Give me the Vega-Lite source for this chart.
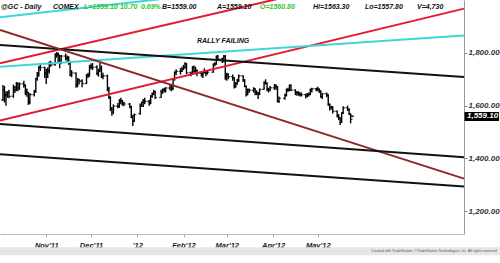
{
  "$schema": "https://vega.github.io/schema/vega-lite/v6.json",
  "width": 464,
  "height": 234,
  "autosize": {"type": "none"},
  "padding": {"left": 0, "top": 0, "right": 36, "bottom": 29},
  "background": "white",
  "config": {"view": {"stroke": null}, "text": {"font": "Liberation Sans"}},
  "datasets": {
    "gc": [
      {"date":"2011-10-03","open":1622,"high":1678,"low":1618,"close":1658},
      {"date":"2011-10-04","open":1660,"high":1675,"low":1612,"close":1641},
      {"date":"2011-10-05","open":1640,"high":1655,"low":1600,"close":1642},
      {"date":"2011-10-06","open":1642,"high":1655,"low":1630,"close":1650},
      {"date":"2011-10-07","open":1650,"high":1660,"low":1628,"close":1635},
      {"date":"2011-10-10","open":1636,"high":1680,"low":1630,"close":1670},
      {"date":"2011-10-11","open":1670,"high":1675,"low":1648,"close":1660},
      {"date":"2011-10-12","open":1660,"high":1690,"low":1655,"close":1684},
      {"date":"2011-10-13","open":1684,"high":1688,"low":1655,"close":1667},
      {"date":"2011-10-14","open":1667,"high":1688,"low":1660,"close":1683},
      {"date":"2011-10-17","open":1683,"high":1695,"low":1668,"close":1678},
      {"date":"2011-10-18","open":1678,"high":1680,"low":1640,"close":1655},
      {"date":"2011-10-19","open":1655,"high":1665,"low":1634,"close":1650},
      {"date":"2011-10-20","open":1650,"high":1652,"low":1603,"close":1615},
      {"date":"2011-10-21","open":1615,"high":1648,"low":1605,"close":1642},
      {"date":"2011-10-24","open":1642,"high":1660,"low":1635,"close":1652},
      {"date":"2011-10-25","open":1652,"high":1705,"low":1650,"close":1703},
      {"date":"2011-10-26","open":1703,"high":1728,"low":1695,"close":1722},
      {"date":"2011-10-27","open":1722,"high":1750,"low":1710,"close":1746},
      {"date":"2011-10-28","open":1746,"high":1756,"low":1732,"close":1745},
      {"date":"2011-10-31","open":1745,"high":1748,"low":1705,"close":1725},
      {"date":"2011-11-01","open":1722,"high":1740,"low":1682,"close":1713},
      {"date":"2011-11-02","open":1713,"high":1745,"low":1705,"close":1733},
      {"date":"2011-11-03","open":1733,"high":1768,"low":1722,"close":1763},
      {"date":"2011-11-04","open":1763,"high":1770,"low":1748,"close":1755},
      {"date":"2011-11-07","open":1755,"high":1798,"low":1752,"close":1795},
      {"date":"2011-11-08","open":1795,"high":1803,"low":1782,"close":1795},
      {"date":"2011-11-09","open":1795,"high":1802,"low":1765,"close":1791},
      {"date":"2011-11-10","open":1791,"high":1792,"low":1742,"close":1760},
      {"date":"2011-11-11","open":1760,"high":1792,"low":1758,"close":1788},
      {"date":"2011-11-14","open":1788,"high":1798,"low":1772,"close":1780},
      {"date":"2011-11-15","open":1780,"high":1790,"low":1768,"close":1782},
      {"date":"2011-11-16","open":1782,"high":1788,"low":1755,"close":1762},
      {"date":"2011-11-17","open":1762,"high":1770,"low":1712,"close":1718},
      {"date":"2011-11-18","open":1718,"high":1735,"low":1708,"close":1724},
      {"date":"2011-11-21","open":1724,"high":1726,"low":1668,"close":1678},
      {"date":"2011-11-22","open":1678,"high":1705,"low":1670,"close":1699},
      {"date":"2011-11-23","open":1699,"high":1702,"low":1680,"close":1693},
      {"date":"2011-11-25","open":1693,"high":1700,"low":1670,"close":1684},
      {"date":"2011-11-28","open":1684,"high":1720,"low":1682,"close":1714},
      {"date":"2011-11-29","open":1714,"high":1725,"low":1705,"close":1716},
      {"date":"2011-11-30","open":1716,"high":1755,"low":1710,"close":1746},
      {"date":"2011-12-01","open":1746,"high":1760,"low":1738,"close":1746},
      {"date":"2011-12-02","open":1746,"high":1762,"low":1735,"close":1746},
      {"date":"2011-12-05","open":1746,"high":1753,"low":1715,"close":1723},
      {"date":"2011-12-06","open":1723,"high":1740,"low":1710,"close":1732},
      {"date":"2011-12-07","open":1732,"high":1762,"low":1728,"close":1742},
      {"date":"2011-12-08","open":1742,"high":1752,"low":1705,"close":1711},
      {"date":"2011-12-09","open":1711,"high":1725,"low":1700,"close":1713},
      {"date":"2011-12-12","open":1713,"high":1718,"low":1655,"close":1663},
      {"date":"2011-12-13","open":1663,"high":1672,"low":1625,"close":1632},
      {"date":"2011-12-14","open":1632,"high":1635,"low":1580,"close":1588},
      {"date":"2011-12-15","open":1588,"high":1595,"low":1562,"close":1575},
      {"date":"2011-12-16","open":1575,"high":1605,"low":1568,"close":1598},
      {"date":"2011-12-19","open":1598,"high":1610,"low":1590,"close":1597},
      {"date":"2011-12-20","open":1597,"high":1625,"low":1592,"close":1618},
      {"date":"2011-12-21","open":1618,"high":1630,"low":1605,"close":1619},
      {"date":"2011-12-22","open":1619,"high":1622,"low":1600,"close":1610},
      {"date":"2011-12-23","open":1610,"high":1615,"low":1598,"close":1606},
      {"date":"2011-12-27","open":1606,"high":1610,"low":1590,"close":1595},
      {"date":"2011-12-28","open":1595,"high":1600,"low":1552,"close":1557},
      {"date":"2011-12-29","open":1557,"high":1566,"low":1523,"close":1541},
      {"date":"2011-12-30","open":1541,"high":1570,"low":1538,"close":1566},
      {"date":"2012-01-03","open":1570,"high":1608,"low":1566,"close":1600},
      {"date":"2012-01-04","open":1600,"high":1615,"low":1595,"close":1613},
      {"date":"2012-01-05","open":1613,"high":1625,"low":1595,"close":1620},
      {"date":"2012-01-06","open":1620,"high":1630,"low":1605,"close":1616},
      {"date":"2012-01-09","open":1616,"high":1622,"low":1600,"close":1608},
      {"date":"2012-01-10","open":1608,"high":1640,"low":1606,"close":1636},
      {"date":"2012-01-11","open":1636,"high":1650,"low":1630,"close":1645},
      {"date":"2012-01-12","open":1645,"high":1660,"low":1640,"close":1653},
      {"date":"2012-01-13","open":1653,"high":1657,"low":1625,"close":1631},
      {"date":"2012-01-17","open":1631,"high":1660,"low":1630,"close":1654},
      {"date":"2012-01-18","open":1654,"high":1665,"low":1645,"close":1661},
      {"date":"2012-01-19","open":1661,"high":1668,"low":1650,"close":1657},
      {"date":"2012-01-20","open":1657,"high":1670,"low":1650,"close":1667},
      {"date":"2012-01-23","open":1667,"high":1680,"low":1658,"close":1678},
      {"date":"2012-01-24","open":1678,"high":1682,"low":1655,"close":1664},
      {"date":"2012-01-25","open":1664,"high":1705,"low":1660,"close":1700},
      {"date":"2012-01-26","open":1700,"high":1730,"low":1695,"close":1726},
      {"date":"2012-01-27","open":1726,"high":1738,"low":1715,"close":1730},
      {"date":"2012-01-30","open":1730,"high":1742,"low":1718,"close":1731},
      {"date":"2012-01-31","open":1731,"high":1748,"low":1728,"close":1740},
      {"date":"2012-02-01","open":1740,"high":1755,"low":1735,"close":1746},
      {"date":"2012-02-02","open":1746,"high":1765,"low":1740,"close":1759},
      {"date":"2012-02-03","open":1759,"high":1762,"low":1720,"close":1725},
      {"date":"2012-02-06","open":1725,"high":1730,"low":1712,"close":1721},
      {"date":"2012-02-07","open":1721,"high":1750,"low":1718,"close":1745},
      {"date":"2012-02-08","open":1745,"high":1752,"low":1725,"close":1731},
      {"date":"2012-02-09","open":1731,"high":1748,"low":1725,"close":1733},
      {"date":"2012-02-10","open":1733,"high":1738,"low":1712,"close":1723},
      {"date":"2012-02-13","open":1723,"high":1728,"low":1710,"close":1721},
      {"date":"2012-02-14","open":1721,"high":1730,"low":1705,"close":1726},
      {"date":"2012-02-15","open":1726,"high":1742,"low":1722,"close":1730},
      {"date":"2012-02-16","open":1730,"high":1735,"low":1712,"close":1725},
      {"date":"2012-02-17","open":1725,"high":1735,"low":1718,"close":1727},
      {"date":"2012-02-21","open":1727,"high":1760,"low":1725,"close":1757},
      {"date":"2012-02-22","open":1757,"high":1765,"low":1750,"close":1759},
      {"date":"2012-02-23","open":1759,"high":1790,"low":1755,"close":1787},
      {"date":"2012-02-24","open":1787,"high":1792,"low":1770,"close":1777},
      {"date":"2012-02-27","open":1777,"high":1782,"low":1762,"close":1770},
      {"date":"2012-02-28","open":1770,"high":1792,"low":1765,"close":1787},
      {"date":"2012-02-29","open":1787,"high":1792,"low":1698,"close":1712},
      {"date":"2012-03-01","open":1712,"high":1725,"low":1695,"close":1719},
      {"date":"2012-03-02","open":1719,"high":1722,"low":1700,"close":1710},
      {"date":"2012-03-05","open":1710,"high":1718,"low":1695,"close":1706},
      {"date":"2012-03-06","open":1706,"high":1708,"low":1665,"close":1674},
      {"date":"2012-03-07","open":1674,"high":1690,"low":1668,"close":1683},
      {"date":"2012-03-08","open":1683,"high":1702,"low":1680,"close":1697},
      {"date":"2012-03-09","open":1697,"high":1718,"low":1690,"close":1713},
      {"date":"2012-03-12","open":1713,"high":1715,"low":1690,"close":1698},
      {"date":"2012-03-13","open":1698,"high":1700,"low":1670,"close":1674},
      {"date":"2012-03-14","open":1674,"high":1676,"low":1635,"close":1642},
      {"date":"2012-03-15","open":1642,"high":1665,"low":1640,"close":1659},
      {"date":"2012-03-16","open":1659,"high":1665,"low":1648,"close":1658},
      {"date":"2012-03-19","open":1658,"high":1670,"low":1650,"close":1663},
      {"date":"2012-03-20","open":1663,"high":1666,"low":1640,"close":1651},
      {"date":"2012-03-21","open":1651,"high":1658,"low":1640,"close":1648},
      {"date":"2012-03-22","open":1648,"high":1652,"low":1625,"close":1643},
      {"date":"2012-03-23","open":1643,"high":1665,"low":1640,"close":1662},
      {"date":"2012-03-26","open":1662,"high":1692,"low":1660,"close":1688},
      {"date":"2012-03-27","open":1688,"high":1700,"low":1680,"close":1685},
      {"date":"2012-03-28","open":1685,"high":1688,"low":1655,"close":1663},
      {"date":"2012-03-29","open":1663,"high":1668,"low":1650,"close":1662},
      {"date":"2012-03-30","open":1662,"high":1675,"low":1655,"close":1668},
      {"date":"2012-04-02","open":1668,"high":1682,"low":1660,"close":1677},
      {"date":"2012-04-03","open":1677,"high":1680,"low":1660,"close":1672},
      {"date":"2012-04-04","open":1672,"high":1675,"low":1612,"close":1617},
      {"date":"2012-04-05","open":1617,"high":1635,"low":1610,"close":1628},
      {"date":"2012-04-09","open":1628,"high":1645,"low":1622,"close":1639},
      {"date":"2012-04-10","open":1639,"high":1665,"low":1635,"close":1661},
      {"date":"2012-04-11","open":1661,"high":1668,"low":1652,"close":1660},
      {"date":"2012-04-12","open":1660,"high":1680,"low":1655,"close":1677},
      {"date":"2012-04-13","open":1677,"high":1680,"low":1655,"close":1659},
      {"date":"2012-04-16","open":1659,"high":1662,"low":1640,"close":1650},
      {"date":"2012-04-17","open":1650,"high":1655,"low":1638,"close":1650},
      {"date":"2012-04-18","open":1650,"high":1655,"low":1638,"close":1643},
      {"date":"2012-04-19","open":1643,"high":1652,"low":1635,"close":1641},
      {"date":"2012-04-20","open":1641,"high":1650,"low":1635,"close":1642},
      {"date":"2012-04-23","open":1642,"high":1646,"low":1627,"close":1638},
      {"date":"2012-04-24","open":1638,"high":1648,"low":1632,"close":1642},
      {"date":"2012-04-25","open":1642,"high":1650,"low":1635,"close":1643},
      {"date":"2012-04-26","open":1643,"high":1665,"low":1640,"close":1659},
      {"date":"2012-04-27","open":1659,"high":1668,"low":1650,"close":1664},
      {"date":"2012-04-30","open":1664,"high":1668,"low":1655,"close":1663},
      {"date":"2012-05-01","open":1663,"high":1672,"low":1655,"close":1662},
      {"date":"2012-05-02","open":1662,"high":1665,"low":1648,"close":1655},
      {"date":"2012-05-03","open":1655,"high":1658,"low":1630,"close":1634},
      {"date":"2012-05-04","open":1634,"high":1648,"low":1625,"close":1645},
      {"date":"2012-05-07","open":1645,"high":1650,"low":1632,"close":1640},
      {"date":"2012-05-08","open":1640,"high":1643,"low":1600,"close":1605},
      {"date":"2012-05-09","open":1605,"high":1608,"low":1582,"close":1592},
      {"date":"2012-05-10","open":1592,"high":1600,"low":1585,"close":1594},
      {"date":"2012-05-11","open":1594,"high":1598,"low":1570,"close":1579},
      {"date":"2012-05-14","open":1579,"high":1582,"low":1555,"close":1562},
      {"date":"2012-05-15","open":1562,"high":1568,"low":1545,"close":1553},
      {"date":"2012-05-16","open":1553,"high":1555,"low":1527,"close":1537},
      {"date":"2012-05-17","open":1537,"high":1575,"low":1535,"close":1573},
      {"date":"2012-05-18","open":1573,"high":1598,"low":1568,"close":1592},
      {"date":"2012-05-21","open":1592,"high":1600,"low":1580,"close":1585},
      {"date":"2012-05-22","open":1585,"high":1590,"low":1565,"close":1569},
      {"date":"2012-05-23","open":1569,"high":1570,"low":1533,"close":1548.4},
      {"date":"2012-05-24","open":1560.8,"high":1563.3,"low":1557.8,"close":1559.1}
    ],
    "lines": [
      {"line":"red upper","kind":"rising channel","date":"2011-10-01","price":1760.6},
      {"line":"red upper","kind":"rising channel","date":"2012-08-07","price":2168.9},
      {"line":"red lower","kind":"rising channel","date":"2011-10-01","price":1543.3},
      {"line":"red lower","kind":"rising channel","date":"2012-08-07","price":1968.3},
      {"line":"cyan main","kind":"cyan trend","date":"2011-10-01","price":1747.7},
      {"line":"cyan main","kind":"cyan trend","date":"2012-08-07","price":1866.2},
      {"line":"cyan top","kind":"cyan trend","date":"2011-10-01","price":1935.3},
      {"line":"cyan top","kind":"cyan trend","date":"2012-01-16","price":2004},
      {"line":"black upper","kind":"falling channel","date":"2011-10-01","price":1830.1},
      {"line":"black upper","kind":"falling channel","date":"2012-08-07","price":1708.6},
      {"line":"maroon","kind":"falling trend","date":"2011-10-01","price":1887.1},
      {"line":"maroon","kind":"falling trend","date":"2012-08-07","price":1323},
      {"line":"black mid","kind":"falling channel","date":"2011-10-01","price":1530},
      {"line":"black mid","kind":"falling channel","date":"2012-08-07","price":1404.7},
      {"line":"black low","kind":"falling channel","date":"2011-10-01","price":1416},
      {"line":"black low","kind":"falling channel","date":"2012-08-07","price":1293}
    ]
  },
  "layer": [
    {
      "data": {"name": "gc"},
      "mark": {"type": "rule", "color": "#000", "strokeWidth": 1.4},
      "encoding": {
        "x": {
          "field": "date", "type": "temporal",
          "scale": {"type": "utc", "domain": [1317427200000, 1344297600000]},
          "axis": {
            "title": null,
            "values": [1320105600000, 1322697600000, 1325376000000, 1328054400000, 1330560000000, 1333238400000, 1335830400000],
            "labelExpr": "utcmonth(datum.value) == 0 ? \"'12\" : utcFormat(datum.value, \"%b'%y\")",
            "labelOverlap": false,
            "labelFont": "Liberation Sans",
            "labelFontSize": 7.5,
            "labelFontWeight": "bold",
            "labelFontStyle": "italic",
            "labelColor": "#222",
            "labelPadding": 4,
            "tickSize": 3,
            "tickColor": "#aaa",
            "domainColor": "#bbb",
            "grid": false
          }
        },
        "y": {
          "field": "low", "type": "quantitative",
          "scale": {"domain": [1113, 2001], "nice": false, "zero": false},
          "axis": {
            "title": null,
            "orient": "right",
            "values": [1200, 1300, 1400, 1500, 1600, 1700, 1800, 1900],
            "format": ",.2f",
            "labelOverlap": false,
            "labelFont": "Liberation Sans",
            "labelFontSize": 8,
            "labelFontWeight": "bold",
            "labelFontStyle": "italic",
            "labelColor": "#333",
            "labelPadding": 1,
            "tickSize": 3,
            "tickColor": "#888",
            "domainColor": "#999",
            "grid": false
          }
        },
        "y2": {"field": "high"}
      }
    },
    {
      "data": {"name": "gc"},
      "mark": {"type": "tick", "orient": "horizontal", "size": 2, "thickness": 1.3, "xOffset": -1, "color": "#000"},
      "encoding": {
        "x": {"field": "date", "type": "temporal"},
        "y": {"field": "open", "type": "quantitative"}
      }
    },
    {
      "data": {"name": "gc"},
      "mark": {"type": "tick", "orient": "horizontal", "size": 2, "thickness": 1.3, "xOffset": 1, "color": "#000"},
      "encoding": {
        "x": {"field": "date", "type": "temporal"},
        "y": {"field": "close", "type": "quantitative"}
      }
    },
    {
      "data": {"name": "lines"},
      "mark": {"type": "line"},
      "encoding": {
        "x": {"field": "date", "type": "temporal"},
        "y": {"field": "price", "type": "quantitative"},
        "detail": {"field": "line"},
        "color": {"field": "kind", "type": "nominal", "legend": null,
          "scale": {"domain": ["rising channel", "cyan trend", "falling trend", "falling channel"], "range": ["#e31b2d", "#3fd6d6", "#8c2a2a", "#111111"]}},
        "strokeWidth": {"field": "kind", "type": "nominal", "legend": null,
          "scale": {"domain": ["rising channel", "cyan trend", "falling trend", "falling channel"], "range": [2, 2, 1.4, 1.4]}}
      }
    },
    {
      "data": {"values": [{}]},
      "mark": {"type": "rect", "color": "#e6e6e6"},
      "encoding": {
        "x": {"datum": 1317427200000, "type": "temporal"},
        "x2": {"datum": 1346371200000},
        "y": {"datum": 1063, "type": "quantitative"},
        "y2": {"datum": 1032.5}
      }
    },
    {
      "data": {"values": [{}]},
      "mark": {"type": "text", "align": "right", "baseline": "middle", "fontSize": 3.6, "color": "#555"},
      "encoding": {
        "x": {"datum": 1346198400000, "type": "temporal"},
        "y": {"datum": 1047, "type": "quantitative"},
        "text": {"value": "Created with TradeStation. ©TradeStation Technologies, Inc. All rights reserved"}
      }
    },
    {
      "data": {"values": [{}]},
      "mark": {"type": "text", "align": "left", "baseline": "middle", "fontSize": 7, "fontWeight": "bold", "fontStyle": "italic", "color": "#111"},
      "encoding": {
        "x": {"datum": 1328832000000, "type": "temporal"},
        "y": {"datum": 1846, "type": "quantitative"},
        "text": {"value": "RALLY FAILING"}
      }
    },
    {
      "data": {"values": [{}]},
      "mark": {"type": "point", "shape": "M0.03,-0.26H2V0.26H0.03Z", "size": 1225, "filled": true, "color": "#000", "opacity": 1},
      "encoding": {
        "x": {"datum": 1344297600000, "type": "temporal"},
        "y": {"datum": 1559.1, "type": "quantitative"}
      }
    },
    {
      "data": {"values": [{}]},
      "mark": {"type": "text", "align": "left", "baseline": "middle", "dx": 3, "fontSize": 8, "fontWeight": "bold", "fontStyle": "italic", "color": "#fff"},
      "encoding": {
        "x": {"datum": 1344297600000, "type": "temporal"},
        "y": {"datum": 1559.1, "type": "quantitative"},
        "text": {"value": "1,559.10"}
      }
    },
    {
      "data": {"values": [{}]},
      "mark": {"type": "text", "align": "left", "baseline": "alphabetic", "fontSize": 7, "fontWeight": "bold", "fontStyle": "italic", "color": "#111"},
      "encoding": {"x": {"datum": 1317484800000, "type": "temporal"}, "y": {"datum": 1965, "type": "quantitative"}, "text": {"value": "@GC - Daily"}}
    },
    {
      "data": {"values": [{}]},
      "mark": {"type": "text", "align": "left", "baseline": "alphabetic", "fontSize": 7, "fontWeight": "bold", "fontStyle": "italic", "color": "#111"},
      "encoding": {"x": {"datum": 1320494400000, "type": "temporal"}, "y": {"datum": 1965, "type": "quantitative"}, "text": {"value": "COMEX"}}
    },
    {
      "data": {"values": [{}]},
      "mark": {"type": "text", "align": "left", "baseline": "alphabetic", "fontSize": 7, "fontWeight": "bold", "fontStyle": "italic", "color": "#2fc42f"},
      "encoding": {"x": {"datum": 1322291520000, "type": "temporal"}, "y": {"datum": 1965, "type": "quantitative"}, "text": {"value": "L=1559.10"}}
    },
    {
      "data": {"values": [{}]},
      "mark": {"type": "text", "align": "left", "baseline": "alphabetic", "fontSize": 7, "fontWeight": "bold", "fontStyle": "italic", "color": "#2fc42f"},
      "encoding": {"x": {"datum": 1324373760000, "type": "temporal"}, "y": {"datum": 1965, "type": "quantitative"}, "text": {"value": "10.70"}}
    },
    {
      "data": {"values": [{}]},
      "mark": {"type": "text", "align": "left", "baseline": "alphabetic", "fontSize": 7, "fontWeight": "bold", "fontStyle": "italic", "color": "#2fc42f"},
      "encoding": {"x": {"datum": 1325592000000, "type": "temporal"}, "y": {"datum": 1965, "type": "quantitative"}, "text": {"value": "0.69%"}}
    },
    {
      "data": {"values": [{}]},
      "mark": {"type": "text", "align": "left", "baseline": "alphabetic", "fontSize": 7, "fontWeight": "bold", "fontStyle": "italic", "color": "#111"},
      "encoding": {"x": {"datum": 1326810240000, "type": "temporal"}, "y": {"datum": 1965, "type": "quantitative"}, "text": {"value": "B=1559.00"}}
    },
    {
      "data": {"values": [{}]},
      "mark": {"type": "text", "align": "left", "baseline": "alphabetic", "fontSize": 7, "fontWeight": "bold", "fontStyle": "italic", "color": "#111"},
      "encoding": {"x": {"datum": 1329989760000, "type": "temporal"}, "y": {"datum": 1965, "type": "quantitative"}, "text": {"value": "A=1559.10"}}
    },
    {
      "data": {"values": [{}]},
      "mark": {"type": "text", "align": "left", "baseline": "alphabetic", "fontSize": 7, "fontWeight": "bold", "fontStyle": "italic", "color": "#2fc42f"},
      "encoding": {"x": {"datum": 1332486720000, "type": "temporal"}, "y": {"datum": 1965, "type": "quantitative"}, "text": {"value": "O=1560.80"}}
    },
    {
      "data": {"values": [{}]},
      "mark": {"type": "text", "align": "left", "baseline": "alphabetic", "fontSize": 7, "fontWeight": "bold", "fontStyle": "italic", "color": "#111"},
      "encoding": {"x": {"datum": 1335553920000, "type": "temporal"}, "y": {"datum": 1965, "type": "quantitative"}, "text": {"value": "Hi=1563.30"}}
    },
    {
      "data": {"values": [{}]},
      "mark": {"type": "text", "align": "left", "baseline": "alphabetic", "fontSize": 7, "fontWeight": "bold", "fontStyle": "italic", "color": "#111"},
      "encoding": {"x": {"datum": 1338560640000, "type": "temporal"}, "y": {"datum": 1965, "type": "quantitative"}, "text": {"value": "Lo=1557.80"}}
    },
    {
      "data": {"values": [{}]},
      "mark": {"type": "text", "align": "left", "baseline": "alphabetic", "fontSize": 7, "fontWeight": "bold", "fontStyle": "italic", "color": "#111"},
      "encoding": {"x": {"datum": 1341576000000, "type": "temporal"}, "y": {"datum": 1965, "type": "quantitative"}, "text": {"value": "V=4,730"}}
    }
  ]
}
